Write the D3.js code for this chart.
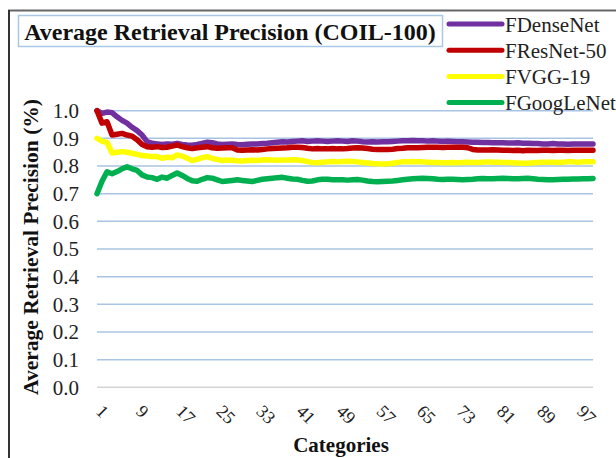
<!DOCTYPE html>
<html>
<head>
<meta charset="utf-8">
<script src="https://cdn.jsdelivr.net/npm/d3@7"></script>
<style>
  html, body { margin: 0; padding: 0; background: #fff; }
  svg { display: block; }
  svg text { font-family: "Liberation Serif", "Times New Roman", serif; }
</style>
</head>
<body>
<script>
const title = "Average Retrieval Precision (COIL-100)";
const xTitle = "Categories";
const yTitle = "Average Retrieval Precision (%)";
const seriesNames = ["FDenseNet", "FResNet-50", "FVGG-19", "FGoogLeNet"];
const seriesColors = ["#7030a0", "#c00000", "#ffff00", "#00b050"];
const yTicks = [0.0, 0.1, 0.2, 0.3, 0.4, 0.5, 0.6, 0.7, 0.8, 0.9, 1.0];
const xTickLabels = [1, 9, 17, 25, 33, 41, 49, 57, 65, 73, 81, 89, 97];
const categories = d3.range(1, 101);

const fDenseNet = [
  1.000, 0.990, 0.995, 0.993, 0.978, 0.965, 0.955, 0.940, 0.928, 0.912,
  0.888, 0.882, 0.880, 0.878, 0.880, 0.879, 0.882, 0.878, 0.876, 0.875,
  0.878, 0.882, 0.886, 0.884, 0.880, 0.878, 0.879, 0.880, 0.878, 0.877,
  0.879, 0.880, 0.880, 0.881, 0.882, 0.884, 0.886, 0.888, 0.887, 0.889,
  0.890, 0.891, 0.889, 0.890, 0.891, 0.890, 0.889, 0.890, 0.891, 0.890,
  0.889, 0.891, 0.890, 0.888, 0.887, 0.888, 0.887, 0.888, 0.888, 0.889,
  0.890, 0.891, 0.891, 0.892, 0.891, 0.891, 0.890, 0.891, 0.890, 0.889,
  0.890, 0.889, 0.888, 0.888, 0.887, 0.886, 0.886, 0.885, 0.885, 0.884,
  0.884, 0.884, 0.883, 0.883, 0.884, 0.882, 0.882, 0.881, 0.881, 0.880,
  0.880, 0.881, 0.880, 0.880, 0.879, 0.880, 0.880, 0.880, 0.880, 0.880
];
const fResNet50 = [
  1.000, 0.955, 0.960, 0.912, 0.915, 0.918, 0.912, 0.908, 0.895, 0.878,
  0.870, 0.868, 0.870, 0.867, 0.868, 0.872, 0.876, 0.870, 0.866, 0.863,
  0.866, 0.868, 0.870, 0.866, 0.864, 0.865, 0.866, 0.866, 0.858, 0.857,
  0.858, 0.859, 0.858, 0.860, 0.862, 0.863, 0.864, 0.865, 0.866, 0.868,
  0.868, 0.867, 0.864, 0.862, 0.863, 0.862, 0.862, 0.863, 0.862, 0.862,
  0.863, 0.865, 0.866, 0.865, 0.863, 0.861, 0.860, 0.860, 0.860, 0.861,
  0.863, 0.864, 0.866, 0.866, 0.866, 0.867, 0.868, 0.868, 0.868, 0.867,
  0.868, 0.868, 0.868, 0.868, 0.866, 0.860, 0.858, 0.858, 0.858, 0.859,
  0.858, 0.857, 0.857, 0.856, 0.857, 0.855, 0.857, 0.856, 0.856, 0.857,
  0.857, 0.856, 0.857, 0.857, 0.856, 0.857, 0.857, 0.857, 0.857, 0.857
];
const fVGG19 = [
  0.900, 0.890, 0.885, 0.847, 0.850, 0.852, 0.850, 0.846, 0.842, 0.838,
  0.836, 0.834, 0.834, 0.828, 0.832, 0.830, 0.840, 0.836, 0.828, 0.820,
  0.824, 0.830, 0.834, 0.827, 0.824, 0.820, 0.822, 0.821, 0.819, 0.818,
  0.820, 0.821, 0.820, 0.822, 0.823, 0.822, 0.821, 0.822, 0.822, 0.823,
  0.822, 0.820, 0.816, 0.813, 0.812, 0.814, 0.815, 0.816, 0.815, 0.816,
  0.817, 0.816, 0.815, 0.813, 0.811, 0.809, 0.808, 0.807, 0.808, 0.810,
  0.813, 0.815, 0.815, 0.816, 0.815, 0.815, 0.814, 0.813, 0.813, 0.812,
  0.812, 0.813, 0.812, 0.813, 0.814, 0.813, 0.813, 0.814, 0.815, 0.814,
  0.814, 0.813, 0.813, 0.812, 0.811, 0.810, 0.810, 0.812, 0.813, 0.814,
  0.814, 0.814, 0.813, 0.814, 0.815, 0.815, 0.814, 0.815, 0.815, 0.815
];
const fGoogLeNet = [
  0.700, 0.745, 0.779, 0.772, 0.780, 0.790, 0.797, 0.790, 0.784, 0.768,
  0.760, 0.758, 0.752, 0.760, 0.756, 0.766, 0.775, 0.766, 0.755, 0.747,
  0.745, 0.752, 0.758, 0.756, 0.750, 0.744, 0.746, 0.748, 0.750, 0.748,
  0.746, 0.744, 0.748, 0.752, 0.754, 0.756, 0.758, 0.759, 0.756, 0.753,
  0.752, 0.748, 0.745, 0.746, 0.750, 0.752, 0.752, 0.750, 0.750, 0.750,
  0.749, 0.750, 0.751, 0.749, 0.746, 0.744, 0.743, 0.744, 0.745, 0.746,
  0.748, 0.750, 0.752, 0.754, 0.755, 0.756, 0.755, 0.754, 0.752, 0.751,
  0.752, 0.752, 0.751, 0.750, 0.751, 0.752, 0.754, 0.755, 0.754, 0.754,
  0.755, 0.756, 0.755, 0.754, 0.754, 0.755, 0.756, 0.754, 0.752, 0.751,
  0.750, 0.750, 0.751, 0.752, 0.752, 0.753, 0.753, 0.754, 0.754, 0.755
];
const seriesValues = [fDenseNet, fResNet50, fVGG19, fGoogLeNet];

const W = 616, H = 458;
const serif = '"Liberation Serif", "Times New Roman", serif';
const svg = d3.select("body").append("svg").attr("width", W).attr("height", H);

// outer frame
svg.append("line").attr("x1", 8).attr("x2", W).attr("y1", 10.5).attr("y2", 10.5)
  .attr("stroke", "#666").attr("stroke-width", 2);
svg.append("line").attr("x1", 9).attr("x2", 9).attr("y1", 10).attr("y2", H)
  .attr("stroke", "#333").attr("stroke-width", 2);

const x = d3.scalePoint().domain(categories).range([97, 593]);
const y = d3.scaleLinear().domain([0, 1]).range([387.3, 110.7]);

// gridlines
svg.append("g").selectAll("line").data(yTicks).join("line")
  .attr("x1", 97).attr("x2", 593)
  .attr("y1", d => y(d)).attr("y2", d => y(d))
  .attr("stroke", d => d === 0 ? "#d4d4d4" : "#a8c4e2")
  .attr("stroke-width", 1.5);

// y axis labels
const fmt = d3.format(".1f");
svg.append("g").selectAll("text").data(yTicks).join("text")
  .attr("x", 79).attr("y", d => y(d)).attr("dy", "0.35em")
  .attr("text-anchor", "end")
  .style("font-family", serif).style("font-size", "21px").attr("fill", "#222")
  .text(d => fmt(d));

// x axis labels (rotated 45 deg)
svg.append("g").selectAll("text").data(xTickLabels).join("text")
  .attr("transform", d => `translate(${x(d) + 2.5},408) rotate(45)`)
  .attr("dy", "0.35em").attr("text-anchor", "start")
  .style("font-family", serif).style("font-size", "18px").attr("fill", "#222")
  .text(d => d);

// lines
const line = d3.line().x((d, i) => x(categories[i])).y(d => y(d));
svg.append("g").selectAll("path").data(seriesValues).join("path")
  .attr("d", d => line(d))
  .attr("fill", "none")
  .attr("stroke", (d, i) => seriesColors[i])
  .attr("stroke-width", 5.5)
  .attr("stroke-linejoin", "round")
  .attr("stroke-linecap", "round");

// title box
svg.append("rect").attr("x", 18.5).attr("y", 15.5).attr("width", 424).attr("height", 31)
  .attr("fill", "#fff").attr("stroke", "#a9c8e6").attr("stroke-width", 1.5);
svg.append("text").attr("x", 230).attr("y", 40).attr("text-anchor", "middle")
  .style("font-family", serif).style("font-weight", "bold").style("font-size", "24px")
  .attr("fill", "#111").text(title);

// legend
const leg = svg.append("g");
seriesNames.forEach((name, i) => {
  const ly = 24 + i * 26.2;
  leg.append("line").attr("x1", 449).attr("x2", 502).attr("y1", ly).attr("y2", ly)
    .attr("stroke", seriesColors[i]).attr("stroke-width", 5).attr("stroke-linecap", "round");
  leg.append("text").attr("x", 505).attr("y", ly + 7.5)
    .style("font-family", serif).style("font-size", "21px").attr("fill", "#222").text(name);
});

// axis titles
svg.append("text").attr("x", 341).attr("y", 452).attr("text-anchor", "middle")
  .style("font-family", serif).style("font-weight", "bold").style("font-size", "21px")
  .attr("fill", "#111").text(xTitle);
svg.append("text").attr("transform", "translate(38,247) rotate(-90)").attr("text-anchor", "middle")
  .style("font-family", serif).style("font-weight", "bold").style("font-size", "21.5px")
  .attr("fill", "#111").text(yTitle);
</script>
</body>
</html>
